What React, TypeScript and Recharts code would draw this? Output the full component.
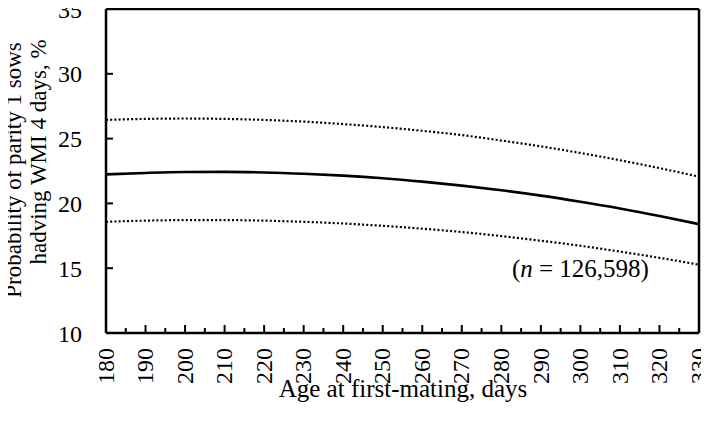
import React from "react";
import {
  LineChart,
  Line,
  XAxis,
  YAxis,
  ReferenceLine,
  ReferenceDot,
} from "recharts";

// age at first mating (days)
const ages = [180, 190, 200, 210, 220, 230, 240, 250, 260, 270, 280, 290, 300, 310, 320, 330];
// predicted probability (%) and its confidence limits
const estimate = [22.24, 22.35, 22.42, 22.43, 22.39, 22.29, 22.14, 21.94, 21.68, 21.37, 21.01, 20.6, 20.13, 19.61, 19.03, 18.4];
const upper = [26.44, 26.52, 26.55, 26.52, 26.44, 26.31, 26.12, 25.89, 25.6, 25.27, 24.85, 24.4, 23.89, 23.33, 22.72, 22.06];
const lower = [18.58, 18.67, 18.71, 18.71, 18.67, 18.58, 18.45, 18.27, 18.05, 17.79, 17.48, 17.12, 16.73, 16.28, 15.8, 15.27];

const xTicks = [180, 185, 190, 195, 200, 205, 210, 215, 220, 225, 230, 235, 240, 245, 250, 255, 260, 265, 270, 275, 280, 285, 290, 295, 300, 305, 310, 315, 320, 325, 330];
const xLabelled = [180, 190, 200, 210, 220, 230, 240, 250, 260, 270, 280, 290, 300, 310, 320, 330];
const yTicks = [10, 15, 20, 25, 30, 35];

const data = ages.map((age, i) => ({
  age,
  est: estimate[i],
  hi: upper[i],
  lo: lower[i],
}));

const FONT = "'Liberation Serif', 'Times New Roman', serif";
const FS = 24;

function XTick(props: any) {
  const { x, y, payload } = props;
  const v = payload.value;
  const major = xLabelled.includes(v);
  return (
    <g>
      <line x1={x} y1={y} x2={x} y2={y - (major ? 8 : 5)} stroke="#000" strokeWidth={2} />
      {major && (
        <text
          transform={`translate(${x},${y + 15}) rotate(-90)`}
          textAnchor="end"
          dy="0.32em"
          fontSize={FS}
          fontFamily={FONT}
          fill="#000"
        >
          {v}
        </text>
      )}
    </g>
  );
}

function YTick(props: any) {
  const { x, y, payload } = props;
  return (
    <g>
      <line x1={x} y1={y} x2={x + 7} y2={y} stroke="#000" strokeWidth={2} />
      <text x={x - 24} y={y} dy="0.36em" textAnchor="end" fontSize={FS} fontFamily={FONT} fill="#000">
        {payload.value}
      </text>
    </g>
  );
}

export default function App() {
  return (
    <div style={{ width: 709, height: 421, margin: "-8px 0 0 -8px", background: "#fff" }}>
      <LineChart width={709} height={421} data={data} margin={{ top: 9, right: 10, left: 0, bottom: 0 }}>
        <XAxis
          dataKey="age"
          type="number"
          domain={[180, 330]}
          ticks={xTicks}
          interval={0}
          tick={<XTick />}
          tickLine={false}
          tickSize={0}
          tickMargin={0}
          height={88}
          axisLine={{ stroke: "#000", strokeWidth: 2.5 }}
        />
        <YAxis
          type="number"
          domain={[10, 35]}
          ticks={yTicks}
          interval={0}
          tick={<YTick />}
          tickLine={false}
          tickSize={0}
          tickMargin={0}
          width={106}
          axisLine={{ stroke: "#000", strokeWidth: 2.5 }}
        />
        <ReferenceLine y={35} stroke="#000" strokeWidth={2.5} />
        <ReferenceLine x={330} stroke="#000" strokeWidth={2.5} />
        <Line type="monotone" dataKey="hi" stroke="#000" strokeWidth={2.2} strokeDasharray="2 2.2" dot={false} isAnimationActive={false} />
        <Line type="monotone" dataKey="lo" stroke="#000" strokeWidth={2.2} strokeDasharray="2 2.2" dot={false} isAnimationActive={false} />
        <Line type="monotone" dataKey="est" stroke="#000" strokeWidth={2.6} dot={false} isAnimationActive={false} />
        <ReferenceDot
          x={300}
          y={15}
          r={0}
          shape={(p: any) => (
            <text x={p.cx} y={p.cy} dy="0.35em" textAnchor="middle" fontSize={25} fontFamily={FONT} fill="#000">
              (<tspan fontStyle="italic">n</tspan> = 126,598)
            </text>
          )}
        />
        <text x={403} y={397} textAnchor="middle" fontSize={25} fontFamily={FONT} fill="#000">
          Age at first-mating, days
        </text>
        <text transform="translate(21,170) rotate(-90)" textAnchor="middle" fontSize={23} fontFamily={FONT} fill="#000">
          Probability of parity 1 sows
        </text>
        <text transform="translate(46,152) rotate(-90)" textAnchor="middle" fontSize={23} fontFamily={FONT} fill="#000">
          hadving WMI 4 days, %
        </text>
      </LineChart>
    </div>
  );
}
